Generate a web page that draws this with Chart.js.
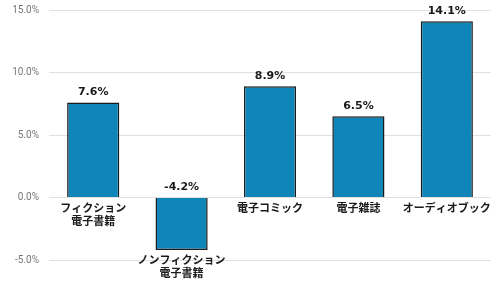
<!DOCTYPE html>
<html>
<head>
<meta charset="utf-8">
<script src="https://cdn.jsdelivr.net/npm/chart.js@4"></script>
<style>
  html, body { margin: 0; padding: 0; background: #fff; }
  #wrap { width: 500px; height: 293px; }
</style>
</head>
<body>
<div id="wrap"><canvas id="chart"></canvas></div>
<script>
// Chart data
const categories = [
  ['フィクション', '電子書籍'],
  ['ノンフィクション', '電子書籍'],
  ['電子コミック'],
  ['電子雑誌'],
  ['オーディオブック']
];
const growthRates = [7.6, -4.2, 8.9, 6.5, 14.1];
const yTicks = [-5, 0, 5, 10, 15];

// Draws value labels above bars and category labels under zero line / bar end
const labelPlugin = {
  id: 'labelPlugin',
  afterDatasetsDraw(chart) {
    const ctx = chart.ctx;
    const meta = chart.getDatasetMeta(0);
    const yScale = chart.scales.y;
    const zeroY = yScale.getPixelForValue(0);
    ctx.save();
    ctx.textAlign = 'center';
    meta.data.forEach((bar, i) => {
      const v = growthRates[i];
      // value label
      ctx.fillStyle = '#1a1a1a';
      ctx.font = 'bold 11px "DejaVu Sans", Verdana, sans-serif';
      ctx.textBaseline = 'bottom';
      const topY = v >= 0 ? bar.y : zeroY;
      ctx.fillText(v.toFixed(1) + '%', bar.x, topY - 5);
      // category label
      ctx.font = 'bold 11px "Noto Sans CJK JP", sans-serif';
      ctx.textBaseline = 'middle';
      const startY = (v >= 0 ? zeroY : bar.y) + 10;
      categories[i].forEach((line, j) => {
        ctx.fillText(line, bar.x, startY + j * 13);
      });
    });
    ctx.restore();
  }
};

new Chart(document.getElementById('chart'), {
  type: 'bar',
  data: {
    labels: categories,
    datasets: [{
      data: growthRates,
      backgroundColor: '#1085b7',
      borderColor: '#1a1a1a',
      borderWidth: 1.5,
      barPercentage: 0.59,
      categoryPercentage: 1
    }]
  },
  options: {
    responsive: true,
    maintainAspectRatio: false,
    animation: false,
    layout: { padding: { top: 10, right: 9, bottom: 33, left: 0 } },
    plugins: {
      legend: { display: false },
      tooltip: { enabled: false }
    },
    scales: {
      x: {
        display: false
      },
      y: {
        min: yTicks[0],
        max: yTicks[yTicks.length - 1],
        afterBuildTicks(axis) {
          axis.ticks = yTicks.map(v => ({ value: v }));
        },
        afterFit(axis) {
          axis.width = 49;
          axis.paddingTop = 0;
          axis.paddingBottom = 0;
        },
        ticks: {
          color: '#777',
          padding: 10,
          font: { family: 'Roboto, sans-serif', size: 10 },
          callback: v => v.toFixed(1) + '%'
        },
        grid: { color: '#e0e0e0', drawTicks: false },
        border: { display: false }
      }
    }
  },
  plugins: [labelPlugin]
});
</script>
</body>
</html>
